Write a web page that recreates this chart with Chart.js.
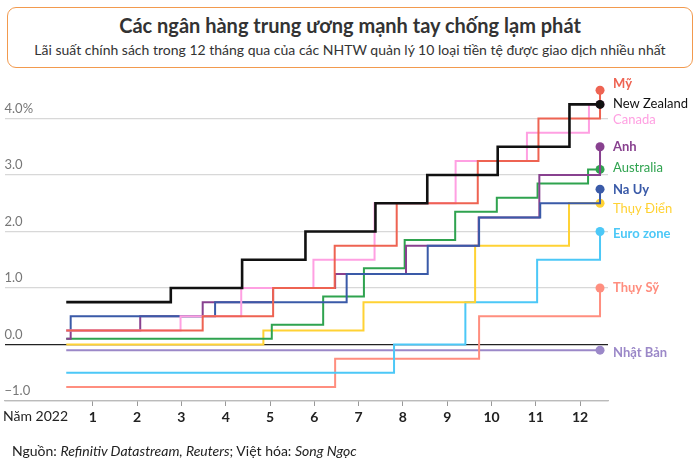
<!DOCTYPE html>
<html>
<head>
<meta charset="utf-8">
<script src="https://cdn.jsdelivr.net/npm/chart.js@4.4.0/dist/chart.umd.min.js"></script>
<style>
body{margin:0;width:700px;height:472px;background:#fff;font-family:Lato,sans-serif;overflow:hidden;position:relative}
#box{position:absolute;left:7px;top:7px;width:686px;height:61px;box-sizing:border-box;border:1.5px solid #f29a4e;border-radius:9px}
#title{position:absolute;left:0;width:700px;top:13px;text-align:center;font-size:20px;line-height:24px;font-weight:bold;color:#333}
#sub{position:absolute;left:0;width:700px;top:41px;text-align:center;font-size:14px;line-height:18px;color:#333}
#src{position:absolute;left:12px;top:442px;font-size:14px;line-height:18px;color:#222}
canvas{position:absolute;left:0;top:0}
</style>
</head>
<body>
<div id="box"></div>
<div id="title">Các ngân hàng trung ương mạnh tay chống lạm phát</div>
<div id="sub">Lãi suất chính sách trong 12 tháng qua của các NHTW quản lý 10 loại tiền tệ được giao dịch nhiều nhất</div>
<canvas id="chart" width="700" height="472"></canvas>
<div id="src">Nguồn: <i>Refinitiv Datastream, Reuters</i>; Việt hóa: <i>Song Ngọc</i></div>
<script>
// TRUC THANG 1..12 VA TRUC LAI SUAT
const monthTicks = [1, 2, 3, 4, 5, 6, 7, 8, 9, 10, 11, 12];
const rateTicks = [-1, 0, 1, 2, 3, 4];

// TEN CAC NHTW (thu tu ve: dau tien nam tren cung)
const names = ['New Zealand', 'Mỹ', 'Canada', 'Na Uy', 'Anh', 'Australia', 'Thụy Điển', 'Euro zone', 'Thụy Sỹ', 'Nhật Bản'];

// NGAY THAY DOI (theo thang) VA LAI SUAT MOI
const nzMonths = [0.4, 2.76, 4.37, 5.8, 7.38, 8.55, 10.14, 11.76, 12.45];
const nzRates = [0.75, 1.0, 1.5, 2.0, 2.5, 3.0, 3.5, 4.25, 4.25];
const usMonths = [0.4, 3.48, 5.07, 6.46, 7.86, 9.69, 11.06, 12.45];
const usRates = [0.25, 0.5, 1.0, 1.75, 2.5, 3.25, 4.0, 4.5];
const caMonths = [0.4, 2.98, 4.35, 5.98, 7.36, 9.19, 10.8, 12.2, 12.45];
const caRates = [0.25, 0.5, 1.0, 1.5, 2.5, 3.25, 3.75, 4.25, 4.25];
const noMonths = [0.4, 0.5, 3.76, 6.73, 8.56, 9.72, 11.1, 12.45];
const noRates = [0.25, 0.5, 0.75, 1.25, 1.75, 2.25, 2.5, 2.75];
const ukMonths = [0.4, 0.5, 2.07, 3.48, 5.07, 6.47, 8.07, 9.71, 11.08, 12.45];
const ukRates = [0.1, 0.25, 0.5, 0.75, 1.0, 1.25, 1.75, 2.25, 3.0, 3.5];
const auMonths = [0.4, 5.04, 6.2, 7.12, 8.04, 9.18, 10.12, 11.04, 12.18, 12.45];
const auRates = [0.1, 0.35, 0.85, 1.35, 1.85, 2.35, 2.6, 2.85, 3.1, 3.1];
const seMonths = [0.4, 4.85, 7.11, 9.63, 11.75, 12.45];
const seRates = [0, 0.25, 0.75, 1.75, 2.5, 2.5];
const euMonths = [0.4, 7.8, 9.41, 11.03, 12.45];
const euRates = [-0.5, 0, 0.75, 1.5, 2.0];
const chMonths = [0.4, 6.47, 9.72, 12.45];
const chRates = [-0.75, -0.25, 0.5, 1.0];
const jpMonths = [0.4, 12.45];
const jpRates = [-0.1, -0.1];

const allMonths = [nzMonths, usMonths, caMonths, noMonths, ukMonths, auMonths, seMonths, euMonths, chMonths, jpMonths];
const allRates = [nzRates, usRates, caRates, noRates, ukRates, auRates, seRates, euRates, chRates, jpRates];

// ESTILOS
const colors = ['#111111', '#ee6352', '#ffa0e2', '#3a5aa8', '#88418f', '#2fa34f', '#ffd234', '#4cc8f7', '#ff8e7f', '#9b88c8'];
const labelBold = [false, true, false, true, true, false, false, true, true, true];
const labelShift = [-1, -6, 15, 1, 0, -2, 6, 2, 0, 3];

const datasets = names.map((name, i) => ({
    label: name,
    data: allMonths[i].map((m, j) => ({ x: m, y: allRates[i][j] })),
    borderColor: colors[i],
    backgroundColor: colors[i],
    borderWidth: i === 0 ? 2.6 : 2,
    stepped: 'before',
    clip: false,
    pointRadius: (c) => c.dataIndex === allMonths[i].length - 1 ? 4.5 : 0,
    pointBorderWidth: 0,
    pointBackgroundColor: colors[i]
}));

const endLabels = {
    id: 'endLabels',
    afterDatasetsDraw(chart) {
        const c = chart.ctx;
        c.save();
        c.textBaseline = 'middle';
        chart.data.datasets.forEach((ds, i) => {
            const pts = chart.getDatasetMeta(i).data;
            const p = pts[pts.length - 1];
            c.font = (labelBold[i] ? 'bold ' : '') + '13px Lato';
            c.fillStyle = colors[i];
            c.fillText(names[i], p.x + 13, p.y + labelShift[i]);
        });
        // nhan "Nam 2022" o truc x
        const xs = chart.scales.x;
        c.font = '14px Lato';
        c.fillStyle = '#222';
        c.fillText('Năm 2022', 3, xs.top + 15);
        c.restore();
    }
};

function renderChart() {
    const ctx = document.querySelector('#chart').getContext('2d');
    new Chart(ctx, {
        type: 'line',
        data: { datasets: datasets },
        options: {
            responsive: false,
            animation: false,
            devicePixelRatio: 1,
            layout: { padding: { left: 0, right: 92, top: 79, bottom: 45 } },
            plugins: { legend: { display: false }, tooltip: { enabled: false } },
            scales: {
                x: {
                    type: 'linear',
                    min: -0.994,
                    max: 12.63,
                    afterBuildTicks: (s) => { s.ticks = monthTicks.map(v => ({ value: v })); },
                    afterFit: (s) => { s.height = 26; },
                    grid: { drawOnChartArea: false, drawTicks: true, tickLength: 5, tickColor: '#999' },
                    border: { display: true, color: '#bbb', width: 1.2 },
                    ticks: { color: '#222', font: { family: 'Lato', size: 14, weight: 'bold' }, padding: 3, maxRotation: 0, autoSkip: false }
                },
                y: {
                    min: -1,
                    max: 4.7,
                    afterBuildTicks: (s) => { s.ticks = rateTicks.map(v => ({ value: v })); },
                    afterFit: (s) => { s.width = 0; },
                    border: { display: false },
                    grid: {
                        drawTicks: false,
                        color: (c) => c.tick.value === 0 ? '#222' : (c.tick.value === -1 ? '#bbb' : '#d8d8d8'),
                        lineWidth: (c) => c.tick.value === 0 ? 1.3 : 1.2
                    },
                    ticks: {
                        mirror: true,
                        padding: 0,
                        labelOffset: -10,
                        color: '#777',
                        font: { family: 'Lato', size: 13 },
                        callback: (v) => v === 4 ? '4.0%' : (v === -1 ? '−1.0' : v.toFixed(1))
                    }
                }
            }
        },
        plugins: [endLabels]
    });
}
renderChart();
</script>
</body>
</html>
